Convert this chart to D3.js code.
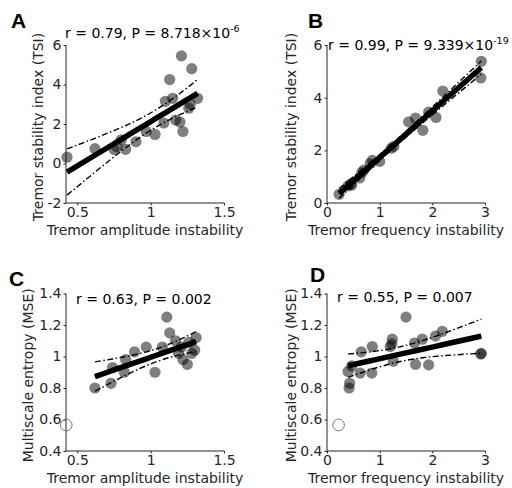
<!DOCTYPE html>
<html>
<head>
<meta charset="utf-8">
<script src="https://cdn.jsdelivr.net/npm/d3@7"></script>
<style>
  body { margin: 0; background: #fff; }
  text { font-family: "DejaVu Sans", Verdana, sans-serif; }
</style>
</head>
<body>
<div id="chart"></div>
<script>
// panel A: amplitude instability vs TSI
const aX = [0.43, 0.62, 0.75, 0.77, 0.80, 0.83, 0.90, 0.97, 1.03, 1.09, 1.10, 1.13, 1.15, 1.17, 1.20, 1.21, 1.22, 1.26, 1.27, 1.28, 1.32];
const aY = [0.32, 0.75, 0.72, 0.85, 1.20, 0.72, 1.10, 1.62, 1.47, 2.05, 3.15, 4.25, 3.30, 2.20, 2.10, 5.45, 1.62, 2.80, 3.00, 4.80, 3.30];
// panel B: frequency instability vs TSI
const bX = [0.23, 0.40, 0.45, 0.47, 0.62, 0.66, 0.70, 0.82, 0.86, 1.00, 1.22, 1.27, 1.55, 1.68, 1.82, 1.93, 2.07, 2.20, 2.93, 2.92];
const bY = [0.33, 0.65, 0.72, 0.68, 0.95, 1.15, 1.25, 1.50, 1.62, 1.58, 2.08, 2.15, 3.08, 3.22, 2.76, 3.45, 3.25, 4.25, 5.38, 4.75];
// panel C: amplitude instability vs MSE
const cX = [0.62, 0.73, 0.74, 0.82, 0.83, 0.89, 0.97, 1.03, 1.08, 1.11, 1.13, 1.17, 1.19, 1.21, 1.22, 1.25, 1.26, 1.28, 1.30, 1.31];
const cY = [0.80, 0.83, 0.93, 0.90, 0.98, 1.03, 1.06, 0.90, 1.06, 1.25, 1.15, 1.10, 1.02, 1.06, 0.98, 0.95, 1.09, 1.02, 1.04, 1.12];
const cOutlier = [0.425, 0.565];
// panel D: frequency instability vs MSE
const dX = [0.42, 0.43, 0.40, 0.47, 0.63, 0.65, 0.85, 0.86, 1.20, 1.24, 1.26, 1.23, 1.50, 1.66, 1.68, 1.81, 1.93, 2.06, 2.19, 2.93, 2.92];
const dY = [0.80, 0.83, 0.905, 0.94, 0.895, 1.03, 0.895, 1.063, 1.063, 1.11, 0.97, 1.08, 1.25, 1.085, 0.95, 1.11, 0.947, 1.13, 1.16, 1.02, 1.015];
const dOutlier = [0.22, 0.565];

const statText = ["r = 0.79, P = 8.718×10", "r = 0.99, P = 9.339×10", "r = 0.63, P = 0.002", "r = 0.55, P = 0.007"];
const statExp = ["-6", "-19", "", ""];
const panelLetters = ["A", "B", "C", "D"];
const xLabels = ["Tremor amplitude instability", "Tremor frequency instability", "Tremor amplitude instability", "Tremor frequency instability"];
const yLabels = ["Tremor stability index (TSI)", "Tremor stability index (TSI)", "Multiscale entropy (MSE)", "Multiscale entropy (MSE)"];
const ampTicks = [0.5, 1, 1.5];
const freqTicks = [0, 1, 2, 3];
const tsiTicksA = [-2, 0, 2, 4, 6];
const tsiTicksB = [0, 2, 4, 6];
const mseTicks = [0.4, 0.6, 0.8, 1, 1.2, 1.4];

const svg = d3.select("#chart").append("svg")
  .attr("width", 512).attr("height", 488);

const axisCol = "#262626";

const panels = [
  { x: aX, y: aY, xd: [0.423, 1.5], yd: [-2, 6], xr: [66, 224], yr: [203, 45], xt: ampTicks, yt: tsiTicksA,
    stat: [65, 38], letter: [11, 28], ylab: 38 },
  { x: bX, y: bY, xd: [0, 3], yd: [0, 6], xr: [327, 485], yr: [203, 45], xt: freqTicks, yt: tsiTicksB,
    stat: [328, 50], letter: [308, 28], ylab: 291 },
  { x: cX, y: cY, xd: [0.423, 1.5], yd: [0.4, 1.4], xr: [66, 224], yr: [451, 293.5], xt: ampTicks, yt: mseTicks,
    stat: [76, 304], letter: [9, 286], ylab: 28, out: cOutlier },
  { x: dX, y: dY, xd: [0, 3], yd: [0.4, 1.4], xr: [327, 485], yr: [451, 293.5], xt: freqTicks, yt: mseTicks,
    stat: [337, 302], letter: [310, 282], ylab: 291, out: dOutlier }
];

function fitWithCI(xs, ys) {
  const n = xs.length;
  const mx = d3.mean(xs), my = d3.mean(ys);
  let sxx = 0, sxy = 0;
  xs.forEach((v, i) => { sxx += (v - mx) ** 2; sxy += (v - mx) * (ys[i] - my); });
  const b = sxy / sxx, a = my - b * mx;
  let sse = 0;
  xs.forEach((v, i) => { sse += (ys[i] - a - b * v) ** 2; });
  const s = Math.sqrt(sse / (n - 2));
  const t = 2.1;
  const sorted = xs.slice().sort(d3.ascending);
  return sorted.map(v => {
    const yh = a + b * v;
    const h = t * s * Math.sqrt(1 / n + (v - mx) ** 2 / sxx);
    return { x: v, y: yh, lo: yh - h, hi: yh + h };
  });
}

panels.forEach((p, i) => {
  const x = d3.scaleLinear().domain(p.xd).range(p.xr);
  const y = d3.scaleLinear().domain(p.yd).range(p.yr);
  const g = svg.append("g");

  // axes
  const xAxis = g.append("g").attr("transform", `translate(0,${p.yr[0]})`)
    .call(d3.axisBottom(x).tickValues(p.xt).tickSize(2.5).tickPadding(2).tickFormat(d => String(d)));
  const yAxis = g.append("g").attr("transform", `translate(${p.xr[0]},0)`)
    .call(d3.axisLeft(y).tickValues(p.yt).tickSize(2.5).tickPadding(2).tickFormat(d => String(d)));
  [xAxis, yAxis].forEach(ax => {
    ax.select(".domain").attr("stroke", axisCol);
    ax.selectAll(".tick line").attr("stroke", axisCol);
    ax.selectAll(".tick text").attr("fill", axisCol).style("font-size", "14px");
  });
  xAxis.select(".domain").attr("d", `M${p.xr[0]},0H${p.xr[1]}`);
  yAxis.select(".domain").attr("d", `M0,${p.yr[0]}V${p.yr[1]}`);

  // points
  g.append("g").selectAll("circle")
    .data(p.x.map((v, k) => [v, p.y[k]]))
    .join("circle")
    .attr("cx", d => x(d[0])).attr("cy", d => y(d[1]))
    .attr("r", 5.6)
    .attr("fill", "#000").attr("fill-opacity", 0.5);

  if (p.out) {
    g.append("circle")
      .attr("cx", x(p.out[0])).attr("cy", y(p.out[1])).attr("r", 5.8)
      .attr("fill", "none").attr("stroke", "#666").attr("stroke-width", 0.9);
  }

  // regression + confidence bounds
  const fit = fitWithCI(p.x, p.y);
  const line = key => d3.line().x(d => x(d.x)).y(d => y(d[key]));
  g.append("path").datum(fit).attr("d", line("y"))
    .attr("fill", "none").attr("stroke", "#000").attr("stroke-width", 5.5);
  ["lo", "hi"].forEach(k => {
    g.append("path").datum(fit).attr("d", line(k))
      .attr("fill", "none").attr("stroke", "#000").attr("stroke-width", 1.4)
      .attr("stroke-dasharray", "6,2.5,1.5,2.5");
  });

  // stats text
  const st = g.append("text").attr("x", p.stat[0]).attr("y", p.stat[1])
    .style("font-size", "14px").attr("fill", "#000").text(statText[i]);
  if (statExp[i]) {
    st.append("tspan").attr("dy", -6).style("font-size", "9.5px").text(statExp[i]);
  }

  // labels
  g.append("text")
    .attr("x", (p.xr[0] + p.xr[1]) / 2).attr("y", p.yr[0] + 32)
    .attr("text-anchor", "middle").attr("fill", axisCol)
    .style("font-size", "14px").text(xLabels[i]);
  g.append("text")
    .attr("transform", `translate(${p.ylab + 5},${(p.yr[0] + p.yr[1]) / 2 + 3}) rotate(-90)`)
    .attr("text-anchor", "middle").attr("fill", axisCol)
    .style("font-size", "14px").text(yLabels[i]);

  g.append("text").attr("x", p.letter[0]).attr("y", p.letter[1])
    .style("font-family", "'Liberation Sans', Arial, sans-serif")
    .style("font-weight", "bold").style("font-size", "21px")
    .attr("fill", "#000").text(panelLetters[i]);
});
</script>
</body>
</html>
